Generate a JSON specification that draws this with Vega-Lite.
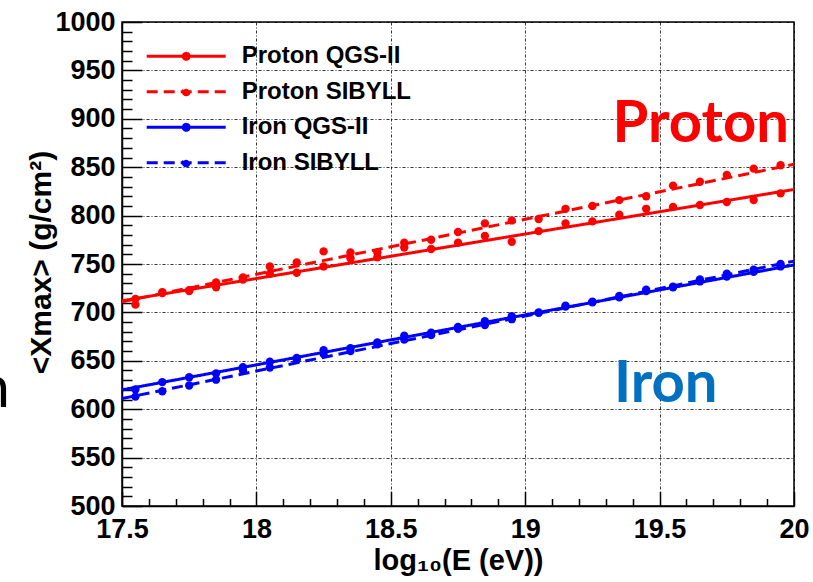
{
  "$schema": "https://vega.github.io/schema/vega-lite/v6.json",
  "width": 672,
  "height": 484,
  "autosize": {"type": "none"},
  "padding": {"left": 122, "top": 22, "right": 19, "bottom": 76},
  "background": "white",
  "config": {
    "font": "Liberation Sans",
    "view": {"stroke": "black", "strokeWidth": 1.5}
  },
  "datasets": {
    "fits": [
      {"series": "Proton QGS-II", "logE": 17.5, "xmax": 712},
      {"series": "Proton QGS-II", "logE": 20.0, "xmax": 827},
      {"series": "Proton SIBYLL", "logE": 17.5, "xmax": 711},
      {"series": "Proton SIBYLL", "logE": 20.0, "xmax": 853},
      {"series": "Iron QGS-II", "logE": 17.5, "xmax": 620},
      {"series": "Iron QGS-II", "logE": 20.0, "xmax": 749},
      {"series": "Iron SIBYLL", "logE": 17.5, "xmax": 611},
      {"series": "Iron SIBYLL", "logE": 20.0, "xmax": 753}
    ],
    "points": [
      {"series": "Proton QGS-II", "logE": 17.55, "xmax": 714},
      {"series": "Proton QGS-II", "logE": 17.65, "xmax": 720},
      {"series": "Proton QGS-II", "logE": 17.75, "xmax": 723},
      {"series": "Proton QGS-II", "logE": 17.85, "xmax": 726},
      {"series": "Proton QGS-II", "logE": 17.95, "xmax": 734},
      {"series": "Proton QGS-II", "logE": 18.05, "xmax": 740},
      {"series": "Proton QGS-II", "logE": 18.15, "xmax": 741},
      {"series": "Proton QGS-II", "logE": 18.25, "xmax": 747.5},
      {"series": "Proton QGS-II", "logE": 18.35, "xmax": 756},
      {"series": "Proton QGS-II", "logE": 18.45, "xmax": 757},
      {"series": "Proton QGS-II", "logE": 18.55, "xmax": 767},
      {"series": "Proton QGS-II", "logE": 18.65, "xmax": 765.5},
      {"series": "Proton QGS-II", "logE": 18.75, "xmax": 772},
      {"series": "Proton QGS-II", "logE": 18.85, "xmax": 779},
      {"series": "Proton QGS-II", "logE": 18.95, "xmax": 773},
      {"series": "Proton QGS-II", "logE": 19.05, "xmax": 784},
      {"series": "Proton QGS-II", "logE": 19.15, "xmax": 792},
      {"series": "Proton QGS-II", "logE": 19.25, "xmax": 794},
      {"series": "Proton QGS-II", "logE": 19.35, "xmax": 801},
      {"series": "Proton QGS-II", "logE": 19.45, "xmax": 807},
      {"series": "Proton QGS-II", "logE": 19.55, "xmax": 809},
      {"series": "Proton QGS-II", "logE": 19.65, "xmax": 811},
      {"series": "Proton QGS-II", "logE": 19.75, "xmax": 814},
      {"series": "Proton QGS-II", "logE": 19.85, "xmax": 816},
      {"series": "Proton QGS-II", "logE": 19.95, "xmax": 823},
      {"series": "Proton SIBYLL", "logE": 17.55, "xmax": 708},
      {"series": "Proton SIBYLL", "logE": 17.65, "xmax": 721},
      {"series": "Proton SIBYLL", "logE": 17.75, "xmax": 722},
      {"series": "Proton SIBYLL", "logE": 17.85, "xmax": 731},
      {"series": "Proton SIBYLL", "logE": 17.95, "xmax": 736},
      {"series": "Proton SIBYLL", "logE": 18.05, "xmax": 747.5},
      {"series": "Proton SIBYLL", "logE": 18.15, "xmax": 751.5},
      {"series": "Proton SIBYLL", "logE": 18.25, "xmax": 763},
      {"series": "Proton SIBYLL", "logE": 18.35, "xmax": 762},
      {"series": "Proton SIBYLL", "logE": 18.45, "xmax": 762},
      {"series": "Proton SIBYLL", "logE": 18.55, "xmax": 772},
      {"series": "Proton SIBYLL", "logE": 18.65, "xmax": 775},
      {"series": "Proton SIBYLL", "logE": 18.75, "xmax": 783},
      {"series": "Proton SIBYLL", "logE": 18.85, "xmax": 792},
      {"series": "Proton SIBYLL", "logE": 18.95, "xmax": 795},
      {"series": "Proton SIBYLL", "logE": 19.05, "xmax": 796.5},
      {"series": "Proton SIBYLL", "logE": 19.15, "xmax": 807},
      {"series": "Proton SIBYLL", "logE": 19.25, "xmax": 810},
      {"series": "Proton SIBYLL", "logE": 19.35, "xmax": 816},
      {"series": "Proton SIBYLL", "logE": 19.45, "xmax": 820},
      {"series": "Proton SIBYLL", "logE": 19.55, "xmax": 831},
      {"series": "Proton SIBYLL", "logE": 19.65, "xmax": 835},
      {"series": "Proton SIBYLL", "logE": 19.75, "xmax": 842},
      {"series": "Proton SIBYLL", "logE": 19.85, "xmax": 848.5},
      {"series": "Proton SIBYLL", "logE": 19.95, "xmax": 852},
      {"series": "Iron QGS-II", "logE": 17.55, "xmax": 620.5},
      {"series": "Iron QGS-II", "logE": 17.65, "xmax": 628},
      {"series": "Iron QGS-II", "logE": 17.75, "xmax": 633},
      {"series": "Iron QGS-II", "logE": 17.85, "xmax": 637},
      {"series": "Iron QGS-II", "logE": 17.95, "xmax": 643.5},
      {"series": "Iron QGS-II", "logE": 18.05, "xmax": 649},
      {"series": "Iron QGS-II", "logE": 18.15, "xmax": 653},
      {"series": "Iron QGS-II", "logE": 18.25, "xmax": 661},
      {"series": "Iron QGS-II", "logE": 18.35, "xmax": 663},
      {"series": "Iron QGS-II", "logE": 18.45, "xmax": 669},
      {"series": "Iron QGS-II", "logE": 18.55, "xmax": 676},
      {"series": "Iron QGS-II", "logE": 18.65, "xmax": 679},
      {"series": "Iron QGS-II", "logE": 18.75, "xmax": 685},
      {"series": "Iron QGS-II", "logE": 18.85, "xmax": 691},
      {"series": "Iron QGS-II", "logE": 18.95, "xmax": 696},
      {"series": "Iron QGS-II", "logE": 19.05, "xmax": 700},
      {"series": "Iron QGS-II", "logE": 19.15, "xmax": 707},
      {"series": "Iron QGS-II", "logE": 19.25, "xmax": 711},
      {"series": "Iron QGS-II", "logE": 19.35, "xmax": 717},
      {"series": "Iron QGS-II", "logE": 19.45, "xmax": 723.5},
      {"series": "Iron QGS-II", "logE": 19.55, "xmax": 726},
      {"series": "Iron QGS-II", "logE": 19.65, "xmax": 734},
      {"series": "Iron QGS-II", "logE": 19.75, "xmax": 740},
      {"series": "Iron QGS-II", "logE": 19.85, "xmax": 744},
      {"series": "Iron QGS-II", "logE": 19.95, "xmax": 750},
      {"series": "Iron SIBYLL", "logE": 17.55, "xmax": 613},
      {"series": "Iron SIBYLL", "logE": 17.65, "xmax": 618.5},
      {"series": "Iron SIBYLL", "logE": 17.75, "xmax": 624.5},
      {"series": "Iron SIBYLL", "logE": 17.85, "xmax": 630.5},
      {"series": "Iron SIBYLL", "logE": 17.95, "xmax": 640},
      {"series": "Iron SIBYLL", "logE": 18.05, "xmax": 643},
      {"series": "Iron SIBYLL", "logE": 18.15, "xmax": 651},
      {"series": "Iron SIBYLL", "logE": 18.25, "xmax": 657},
      {"series": "Iron SIBYLL", "logE": 18.35, "xmax": 660},
      {"series": "Iron SIBYLL", "logE": 18.45, "xmax": 667},
      {"series": "Iron SIBYLL", "logE": 18.55, "xmax": 672},
      {"series": "Iron SIBYLL", "logE": 18.65, "xmax": 676.5},
      {"series": "Iron SIBYLL", "logE": 18.75, "xmax": 683},
      {"series": "Iron SIBYLL", "logE": 18.85, "xmax": 687},
      {"series": "Iron SIBYLL", "logE": 18.95, "xmax": 693},
      {"series": "Iron SIBYLL", "logE": 19.05, "xmax": 699.5},
      {"series": "Iron SIBYLL", "logE": 19.15, "xmax": 706},
      {"series": "Iron SIBYLL", "logE": 19.25, "xmax": 710.5},
      {"series": "Iron SIBYLL", "logE": 19.35, "xmax": 715.5},
      {"series": "Iron SIBYLL", "logE": 19.45, "xmax": 722},
      {"series": "Iron SIBYLL", "logE": 19.55, "xmax": 726.5},
      {"series": "Iron SIBYLL", "logE": 19.65, "xmax": 732},
      {"series": "Iron SIBYLL", "logE": 19.75, "xmax": 737},
      {"series": "Iron SIBYLL", "logE": 19.85, "xmax": 742},
      {"series": "Iron SIBYLL", "logE": 19.95, "xmax": 747.5}
    ]
  },
  "layer": [
    {
      "data": {"name": "fits"},
      "mark": {"type": "line", "strokeWidth": 3},
      "encoding": {
        "x": {
          "field": "logE", "type": "quantitative",
          "scale": {"domain": [17.5, 20], "nice": false, "zero": false},
          "axis": {
            "orient": "bottom",
            "values": [17.6, 17.7, 17.8, 17.9, 18.1, 18.2, 18.3, 18.4, 18.6, 18.7, 18.8, 18.9, 19.1, 19.2, 19.3, 19.4, 19.6, 19.7, 19.8, 19.9],
            "tickSize": -7.5, "tickWidth": 1.5, "tickColor": "black",
            "domain": false, "grid": false, "labels": false, "title": null
          }
        },
        "y": {
          "field": "xmax", "type": "quantitative",
          "scale": {"domain": [500, 1000], "nice": false, "zero": false},
          "axis": {
            "orient": "left",
            "values": [510, 520, 530, 540, 560, 570, 580, 590, 610, 620, 630, 640, 660, 670, 680, 690, 710, 720, 730, 740, 760, 770, 780, 790, 810, 820, 830, 840, 860, 870, 880, 890, 910, 920, 930, 940, 960, 970, 980, 990],
            "tickSize": -10, "tickWidth": 1.5, "tickColor": "black",
            "domain": false, "grid": false, "labels": false, "title": null
          }
        },
        "color": {
          "field": "series", "type": "nominal",
          "scale": {
            "domain": ["Proton QGS-II", "Proton SIBYLL", "Iron QGS-II", "Iron SIBYLL"],
            "range": ["#ff0000", "#ff0000", "#0000ff", "#0000ff"]
          },
          "legend": {
            "orient": "none", "legendX": 23.2, "legendY": 22.3, "direction": "vertical",
            "title": null, "padding": 0, "clipHeight": 24,
            "symbolType": "M-1,0H1M0.075,0C0.075,0.0414,0.0414,0.075,0,0.075C-0.0414,0.075,-0.075,0.0414,-0.075,0C-0.075,-0.0414,-0.0414,-0.075,0,-0.075C0.0414,-0.075,0.075,-0.0414,0.075,0Z",
            "symbolSize": 6241, "symbolStrokeWidth": 3,
            "labelFont": "Liberation Sans", "labelFontWeight": "bold", "labelFontSize": 24,
            "labelColor": "black", "labelOffset": 14.5, "labelLimit": 400, "rowPadding": 11.5,
            "encode": {
              "symbols": {
                "update": {
                  "fill": {"scale": "color", "field": "value"},
                  "stroke": {"scale": "color", "field": "value"},
                  "strokeDash": {"scale": "strokeDash", "field": "value"},
                  "strokeWidth": {"value": 3},
                  "opacity": {"value": 1},
                  "fillOpacity": {"value": 1}
                }
              }
            }
          }
        },
        "strokeDash": {
          "field": "series", "type": "nominal",
          "scale": {
            "domain": ["Proton QGS-II", "Proton SIBYLL", "Iron QGS-II", "Iron SIBYLL"],
            "range": [[1, 0], [11, 6], [1, 0], [11, 6]]
          },
          "legend": null
        }
      }
    },
    {
      "data": {"name": "points"},
      "mark": {"type": "circle", "size": 70, "opacity": 1},
      "encoding": {
        "x": {
          "field": "logE", "type": "quantitative",
          "axis": {
            "orient": "bottom",
            "values": [17.5, 18, 18.5, 19, 19.5, 20],
            "format": "~g",
            "tickSize": -14.5, "tickWidth": 1.5, "tickColor": "black",
            "domainColor": "black", "domainWidth": 1.5,
            "grid": true, "gridColor": "black", "gridDash": [3, 2, 1, 2], "gridWidth": 1, "gridOpacity": 0.8,
            "labelFont": "Liberation Sans", "labelFontWeight": "bold", "labelFontSize": 27,
            "labelColor": "black", "labelPadding": 25, "labelBaseline": "top",
            "labelFlush": false, "labelOverlap": false,
            "title": "log₁₀(E (eV))",
            "titleFont": "Liberation Sans", "titleFontWeight": "bold", "titleFontSize": 29,
            "titleColor": "black", "titleY": 63, "titleBaseline": "alphabetic"
          }
        },
        "y": {
          "field": "xmax", "type": "quantitative",
          "axis": {
            "orient": "left",
            "values": [500, 550, 600, 650, 700, 750, 800, 850, 900, 950, 1000],
            "format": "d",
            "tickSize": -20, "tickWidth": 1.5, "tickColor": "black",
            "domainColor": "black", "domainWidth": 1.5,
            "grid": true, "gridColor": "black", "gridDash": [3, 2, 1, 2], "gridWidth": 1, "gridOpacity": 0.8,
            "labelFont": "Liberation Sans", "labelFontWeight": "bold", "labelFontSize": 27,
            "labelColor": "black", "labelPadding": 27,
            "labelFlush": false, "labelOverlap": false,
            "title": "<Xmax> (g/cm²)",
            "titleFont": "Liberation Sans", "titleFontWeight": "bold", "titleFontSize": 30,
            "titleColor": "black", "titleAngle": -90, "titleX": -72, "titleY": 240,
            "titleAlign": "center", "titleBaseline": "alphabetic"
          }
        },
        "color": {
          "field": "series", "type": "nominal",
          "legend": {
            "orient": "none", "legendX": 23.2, "legendY": 22.3, "direction": "vertical",
            "title": null, "padding": 0, "clipHeight": 24,
            "symbolType": "M-1,0H1M0.075,0C0.075,0.0414,0.0414,0.075,0,0.075C-0.0414,0.075,-0.075,0.0414,-0.075,0C-0.075,-0.0414,-0.0414,-0.075,0,-0.075C0.0414,-0.075,0.075,-0.0414,0.075,0Z",
            "symbolSize": 6241, "symbolStrokeWidth": 3,
            "labelFont": "Liberation Sans", "labelFontWeight": "bold", "labelFontSize": 24,
            "labelColor": "black", "labelOffset": 14.5, "labelLimit": 400, "rowPadding": 11.5,
            "encode": {
              "symbols": {
                "update": {
                  "fill": {"scale": "color", "field": "value"},
                  "stroke": {"scale": "color", "field": "value"},
                  "strokeDash": {"scale": "strokeDash", "field": "value"},
                  "strokeWidth": {"value": 3},
                  "opacity": {"value": 1},
                  "fillOpacity": {"value": 1}
                }
              }
            }
          }
        }
      }
    },
    {
      "data": {"values": [{"label": "Proton", "logE": 19.325, "xmax": 876}]},
      "mark": {"type": "text", "font": "Lato", "fontWeight": "bold", "fontSize": 58, "color": "#ff0000", "align": "left", "baseline": "alphabetic"},
      "encoding": {
        "x": {"field": "logE", "type": "quantitative", "axis": null},
        "y": {"field": "xmax", "type": "quantitative", "axis": null},
        "text": {"field": "label"}
      }
    },
    {
      "data": {"values": [{"label": "Iron", "logE": 19.33, "xmax": 607}]},
      "mark": {"type": "text", "font": "Lato", "fontWeight": "bold", "fontSize": 58, "color": "#0070c0", "align": "left", "baseline": "alphabetic"},
      "encoding": {
        "x": {"field": "logE", "type": "quantitative", "axis": null},
        "y": {"field": "xmax", "type": "quantitative", "axis": null},
        "text": {"field": "label"}
      }
    },
    {
      "data": {"values": [{"label": "n", "logE": 17.083, "xmax": 602.5}]},
      "mark": {"type": "text", "font": "Lato", "fontSize": 58, "color": "black", "align": "right", "baseline": "alphabetic"},
      "encoding": {
        "x": {"field": "logE", "type": "quantitative", "axis": null},
        "y": {"field": "xmax", "type": "quantitative", "axis": null},
        "text": {"field": "label"}
      }
    }
  ],
  "resolve": {"axis": {"x": "independent", "y": "independent"}}
}
